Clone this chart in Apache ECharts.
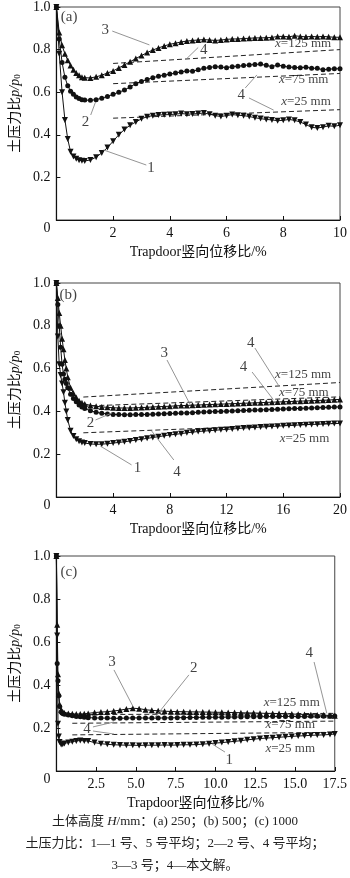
<!DOCTYPE html>
<html><head><meta charset="utf-8">
<script src="https://cdn.jsdelivr.net/npm/echarts@6/dist/echarts.min.js"></script>
<style>html,body{margin:0;padding:0;background:#fff}#c{width:350px;height:878px}</style>
</head><body><div id="c"></div>
<script>
// ---------- Panel (a): H = 250 mm ----------
const xA = [0,0.1,0.2,0.3,0.4,0.5,0.6,0.7,0.8,0.9,1.0,
  1.2,1.4,1.6,1.8,2.0, 2.2,2.4,2.6,2.8,3.0, 3.2,3.4,3.6,3.8,4.0, 4.2,4.4,4.6,4.8,5.0,
  5.2,5.4,5.6,5.8,6.0, 6.2,6.4,6.6,6.8,7.0, 7.2,7.4,7.6,7.8,8.0, 8.2,8.4,8.6,8.8,9.0, 9.2,9.4,9.6,9.8,10.0];
const a1 = [1.0,0.78,0.6,0.47,0.38,0.32,0.298,0.287,0.281,0.278,0.277,
  0.282,0.295,0.315,0.34,0.37, 0.40,0.425,0.445,0.46,0.475, 0.485,0.49,0.493,0.494,0.495,
  0.497,0.5,0.497,0.498,0.5, 0.502,0.497,0.49,0.486,0.49, 0.495,0.492,0.49,0.486,0.48,
  0.476,0.472,0.47,0.466,0.468, 0.472,0.468,0.46,0.448,0.435, 0.432,0.436,0.442,0.44,0.445];
const a2 = [1.0,0.85,0.74,0.67,0.63,0.605,0.59,0.578,0.57,0.565,0.563,
  0.562,0.565,0.572,0.58,0.59, 0.60,0.61,0.625,0.64,0.65, 0.66,0.668,0.675,0.68,0.685,
  0.69,0.695,0.70,0.698,0.705, 0.712,0.716,0.72,0.718,0.715, 0.72,0.722,0.725,0.728,0.73,
  0.732,0.726,0.72,0.728,0.722, 0.718,0.716,0.715,0.717,0.713, 0.712,0.705,0.708,0.71,0.71];
const a3 = [1.0,0.88,0.82,0.78,0.75,0.725,0.705,0.69,0.68,0.67,0.668,
  0.667,0.672,0.68,0.69,0.70, 0.714,0.728,0.743,0.758,0.772, 0.786,0.798,0.808,0.817,0.825,
  0.83,0.836,0.84,0.843,0.845, 0.847,0.845,0.843,0.845,0.848, 0.85,0.85,0.852,0.853,0.855,
  0.855,0.856,0.857,0.862,0.862, 0.86,0.865,0.862,0.86,0.862, 0.86,0.862,0.86,0.858,0.858];
const thA125 = [[2,0.735],[10,0.8]];
const thA75  = [[2,0.64],[10,0.688]];
const thA25  = [[2,0.478],[10,0.518]];

// ---------- Panel (b): H = 500 mm ----------
const xB = [0,0.1,0.2,0.3,0.4,0.5,0.6,0.7,0.8,1.0,1.2,1.4,1.6,1.8,2.0,
  2.4,2.8,3.2,3.6,4.0, 4.4,4.8,5.2,5.6,6.0, 6.4,6.8,7.2,7.6,8.0, 8.4,8.8,9.2,9.6,10.0,
  10.4,10.8,11.2,11.6,12.0, 12.4,12.8,13.2,13.6,14.0, 14.4,14.8,15.2,15.6,16.0,
  16.4,16.8,17.2,17.6,18.0, 18.4,18.8,19.2,19.6,20.0];
const b1 = [1.0,0.75,0.62,0.57,0.53,0.49,0.44,0.40,0.36,0.31,0.285,0.27,0.26,0.255,0.252,
  0.248,0.246,0.247,0.249,0.252, 0.255,0.258,0.262,0.266,0.27, 0.274,0.278,0.282,0.286,0.29,
  0.293,0.296,0.3,0.303,0.306, 0.308,0.31,0.312,0.314,0.316, 0.318,0.32,0.322,0.324,0.325,
  0.327,0.328,0.33,0.331,0.333, 0.334,0.335,0.337,0.338,0.339, 0.34,0.341,0.342,0.343,0.344];
const b2 = [1.0,0.9,0.8,0.7,0.62,0.575,0.55,0.53,0.51,0.48,0.46,0.445,0.43,0.42,0.413,
  0.403,0.396,0.391,0.388,0.386, 0.385,0.384,0.384,0.385,0.385, 0.386,0.387,0.388,0.389,0.39,
  0.391,0.392,0.393,0.394,0.396, 0.397,0.398,0.399,0.4,0.401, 0.402,0.403,0.404,0.405,0.406,
  0.407,0.408,0.409,0.41,0.411, 0.412,0.413,0.414,0.415,0.416, 0.417,0.418,0.419,0.42,0.421];
const b3 = [1.0,0.93,0.86,0.8,0.74,0.69,0.64,0.6,0.56,0.51,0.485,0.465,0.45,0.44,0.435,
  0.428,0.424,0.421,0.419,0.417, 0.416,0.416,0.416,0.417,0.418, 0.419,0.421,0.422,0.423,0.424,
  0.426,0.427,0.428,0.429,0.43, 0.431,0.432,0.433,0.434,0.435, 0.436,0.437,0.438,0.439,0.44,
  0.441,0.442,0.443,0.444,0.445, 0.446,0.447,0.448,0.449,0.45, 0.451,0.452,0.453,0.455,0.456];
const thB125 = [[1.9,0.467],[20,0.535]];
const thB75  = [[1.9,0.425],[20,0.468]];
const thB25  = [[1.9,0.30],[20,0.345]];

// ---------- Panel (c): H = 1000 mm ----------
const xC = [0,0.05,0.1,0.15,0.2,0.3,0.4,0.5,0.75,1.0,1.25,1.5,1.75,2.0,
  2.4,2.8,3.2,3.6,4.0, 4.4,4.8,5.2,5.6,6.0, 6.4,6.8,7.2,7.6,8.0, 8.4,8.8,9.2,9.6,10.0,
  10.4,10.8,11.2,11.6,12.0, 12.4,12.8,13.2,13.6,14.0, 14.4,14.8,15.2,15.6,16.0, 16.4,16.8,17.2,17.5];
const c1 = [1.0,0.63,0.22,0.16,0.135,0.123,0.124,0.128,0.133,0.136,0.14,0.142,0.14,0.14,
  0.132,0.127,0.124,0.122,0.121, 0.12,0.12,0.119,0.12,0.12, 0.12,0.121,0.12,0.121,0.122,
  0.122,0.123,0.125,0.127,0.13, 0.132,0.135,0.138,0.141,0.145, 0.148,0.151,0.153,0.155,0.157,
  0.159,0.161,0.163,0.164,0.166, 0.167,0.168,0.17,0.172];
const c2 = [1.0,0.5,0.42,0.35,0.3,0.275,0.268,0.264,0.26,0.257,0.254,0.252,0.25,0.248,
  0.247,0.246,0.246,0.245,0.245, 0.246,0.247,0.247,0.246,0.246, 0.246,0.247,0.247,0.248,0.248,
  0.249,0.249,0.25,0.25,0.25, 0.25,0.251,0.251,0.251,0.252, 0.252,0.252,0.253,0.253,0.253,
  0.254,0.254,0.254,0.254,0.255, 0.255,0.255,0.255,0.256];
const c3 = [1.0,0.68,0.45,0.36,0.31,0.285,0.275,0.27,0.268,0.266,0.265,0.265,0.266,0.268,
  0.272,0.274,0.276,0.279,0.283, 0.288,0.292,0.29,0.285,0.282, 0.28,0.278,0.277,0.276,0.276,
  0.275,0.275,0.274,0.274,0.273, 0.273,0.272,0.272,0.271,0.27, 0.27,0.269,0.268,0.268,0.267,
  0.266,0.265,0.264,0.263,0.262, 0.261,0.26,0.258,0.257];
const thC125 = [[1.0,0.262],[17.5,0.268]];
const thC75  = [[1.0,0.222],[17.5,0.232]];
const thC25  = [[1.0,0.168],[17.5,0.18]];

// ---------- Tick labels ----------
const yTicks = [0,0.2,0.4,0.6,0.8,1.0];
const xTicksA = [0,2,4,6,8,10];
const xTicksB = [0,4,8,12,16,20];
const xTicksC = [0,2.5,5.0,7.5,10.0,12.5,15.0,17.5];

// ---------- Annotations (data coordinates) ----------
const leadA = [[[1.97,0.887],[3.28,0.822]], [[4.59,0.757],[5.0,0.81]], [[1.21,0.493],[1.38,0.554]],
  [[6.66,0.62],[7.07,0.681]], [[6.79,0.573],[7.66,0.516]], [[3.17,0.258],[1.66,0.329]]];
const textA = [[0.45,0.955,'(a)'],[1.72,0.892,'3'],[5.2,0.80,'4'],[1.03,0.46,'2'],[6.52,0.587,'4'],[3.34,0.244,'1'],
  [8.7,0.83,'{i|x}{t|=125 mm}'],[8.72,0.657,'{i|x}{t|=75 mm}'],[8.8,0.554,'{i|x}{t|=25 mm}']];
const leadB = [[[7.8,0.64],[9.45,0.43]], [[14.0,0.696],[15.66,0.522]], [[13.8,0.584],[15.3,0.455]],
  [[2.76,0.36],[3.93,0.393]], [[5.3,0.15],[3.1,0.238]], [[8.28,0.173],[6.7,0.31]]];
const textB = [[0.83,0.944,'(b)'],[7.6,0.673,'3'],[13.7,0.72,'4'],[13.2,0.607,'4'],[2.4,0.345,'2'],[5.72,0.136,'1'],[8.5,0.117,'4'],
  [17.4,0.57,'{i|x}{t|=125 mm}'],[17.45,0.49,'{i|x}{t|=75 mm}'],[17.5,0.275,'{i|x}{t|=25 mm}']];
const leadC = [[[3.62,0.47],[4.83,0.298]], [[8.33,0.447],[6.2,0.25]], [[16.2,0.507],[17.0,0.268]],
  [[2.3,0.205],[3.62,0.228]], [[2.3,0.186],[3.62,0.172]], [[10.6,0.088],[9.8,0.125]]];
const textC = [[0.78,0.926,'(c)'],[3.5,0.507,'3'],[8.63,0.479,'2'],[15.9,0.549,'4'],[1.93,0.195,'4'],[10.86,0.051,'1'],
  [14.8,0.32,'{i|x}{t|=125 mm}'],[14.7,0.214,'{i|x}{t|=75 mm}'],[14.7,0.102,'{i|x}{t|=25 mm}']];

const captions = ['土体高度 {i|H}/mm：(a) 250；(b) 500；(c) 1000',
  '土压力比：1—1 号、5 号平均；2—2 号、4 号平均；',
  '3—3 号；4—本文解。'];

// ---------- Build ----------
const FONT = "'Liberation Serif','Times New Roman','Noto Sans CJK SC',serif";
const panels = [
  {top:7, h:213, xmax:10, xint:2, xs:xA, s:[a1,a2,a3], th:[thA125,thA75,thA25], lead:leadA, txt:textA, fmt:v=>String(v)},
  {top:283, h:214, xmax:20, xint:4, xs:xB, s:[b1,b2,b3], th:[thB125,thB75,thB25], lead:leadB, txt:textB, fmt:v=>String(v)},
  {top:556, h:215, xmax:17.5, xint:2.5, xs:xC, s:[c1,c2,c3], th:[thC125,thC75,thC25], lead:leadC, txt:textC, fmt:v=>v.toFixed(1)}
];
const grid=[], xAxis=[], yAxis=[], series=[];
const sym = [['triangle',180,6],['circle',0,5],['triangle',0,6]];
panels.forEach((p,i)=>{
  grid.push({left:50, right:10, top:p.top, height:p.h, show:true, borderColor:'#444', borderWidth:1, backgroundColor:'transparent'});
  xAxis.push({type:'value', gridIndex:i, min:0, max:p.xmax, interval:p.xint,
    name:'Trapdoor竖向位移比/%', nameLocation:'middle', nameGap:25,
    nameTextStyle:{fontFamily:FONT, fontSize:14, color:'#111'},
    axisLine:{lineStyle:{color:'#111', width:1.2}},
    axisTick:{inside:true, length:4, lineStyle:{color:'#111'}},
    axisLabel:{margin:6, fontFamily:FONT, fontSize:14, color:'#111', showMaxLabel:true,
      formatter:v=> v===0 ? '' : p.fmt(v)},
    splitLine:{show:false}});
  yAxis.push({type:'value', gridIndex:i, min:0, max:1, interval:0.2,
    name:'土压力比{i|p}{i|/}{i|p}{s|0}', nameLocation:'middle', nameGap:27, nameRotate:90,
    nameTextStyle:{fontFamily:FONT, fontSize:14, color:'#111',
      rich:{i:{fontStyle:'italic', fontFamily:FONT, fontSize:14, color:'#111'},
            s:{fontFamily:FONT, fontSize:9, color:'#111', verticalAlign:'bottom', padding:[5,0,0,0]}}},
    axisLine:{lineStyle:{color:'#111', width:1.2}},
    axisTick:{inside:true, length:4, lineStyle:{color:'#111'}},
    axisLabel:{margin:6, fontFamily:FONT, fontSize:14, color:'#111',
      formatter:v=> v===0 ? '{z|0}' : v.toFixed(1),
      rich:{z:{fontFamily:FONT, fontSize:14, color:'#111', padding:[17,0,0,0]}}},
    splitLine:{show:false}});
  p.th.forEach(t=>series.push({type:'line', xAxisIndex:i, yAxisIndex:i, data:t, symbol:'none',
    lineStyle:{color:'#222', width:1, type:[5,3]}, z:2, animation:false}));
  p.s.forEach((ys,k)=>series.push({type:'line', xAxisIndex:i, yAxisIndex:i,
    data:p.xs.map((x,j)=>[x,ys[j]]), symbol:sym[k][0], symbolRotate:sym[k][1], symbolSize:sym[k][2],
    showAllSymbol:true, clip:false, lineStyle:{color:'#111', width:1}, itemStyle:{color:'#111'}, z:3, animation:false}));
  series.push({type:'lines', coordinateSystem:'cartesian2d', xAxisIndex:i, yAxisIndex:i,
    data:p.lead.map(c=>({coords:c})), lineStyle:{color:'#888', width:0.9, opacity:1}, silent:true, z:4, animation:false});
  series.push({type:'scatter', xAxisIndex:i, yAxisIndex:i, data:p.txt, symbolSize:0, silent:true, z:5,
    label:{show:true, position:'inside', formatter:q=>q.value[2], fontFamily:FONT, fontSize:15, color:'#111',
      rich:{i:{fontStyle:'italic', fontFamily:FONT, fontSize:13, color:'#111'},
            t:{fontFamily:FONT, fontSize:13, color:'#111'}}}, animation:false});
});
const title = captions.map((c,k)=>({text:c, left:'center', top:815+k*22, padding:0,
  textStyle:{fontFamily:FONT, fontSize:13, fontWeight:'normal', color:'#222',
    rich:{i:{fontStyle:'italic', fontFamily:FONT, fontSize:13, color:'#222'}}}}));
const chart = echarts.init(document.getElementById('c'), null, {renderer:'canvas'});
chart.setOption({animation:false, backgroundColor:'#fff', title, grid, xAxis, yAxis, series});
</script></body></html>
